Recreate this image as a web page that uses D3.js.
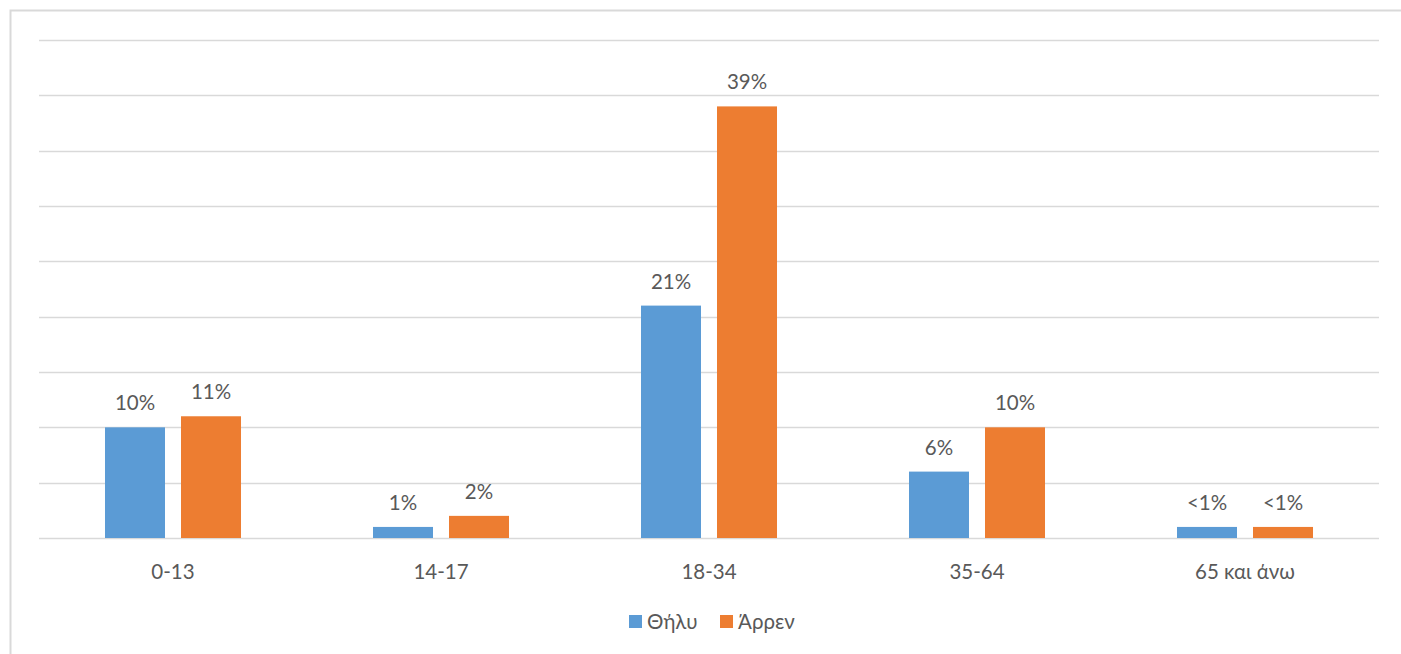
<!DOCTYPE html>
<html lang="el">
    <head>
        <meta charset="utf-8">
        <title>Ηλικία και φύλο</title>
        <script type="text/javascript" src="https://cdn.jsdelivr.net/npm/d3@7"></script>
        <style>
        body { margin: 0; background: #fff; }
        text { font-family: Lato, "Noto Sans", sans-serif; fill: #595959; }
        </style>
    </head>
    <body>
        <script type="text/javascript">
            // age groups and the two series (percent)
            var categories = ["0-13", "14-17", "18-34", "35-64", "65 και άνω"];
            var series = ["Θήλυ", "Άρρεν"];
            var female = [10, 1, 21, 6, 1];
            var male = [11, 2, 39, 10, 1];
            var femaleLabels = ["10%", "1%", "21%", "6%", "<1%"];
            var maleLabels = ["11%", "2%", "39%", "10%", "<1%"];
            var colors = ["#5b9bd5", "#ed7d31"];
            var gridTicks = [0, 5, 10, 15, 20, 25, 30, 35, 40, 45];

            var w = 1401;
            var h = 654;

            var svg = d3.select("body")
                        .append("svg")
                        .attr("width", w)
                        .attr("height", h);

            // chart border
            svg.append("path")
               .attr("d", "M10.5," + h + "V10.5H" + w)
               .attr("fill", "none")
               .attr("stroke", "#d9d9d9")
               .attr("stroke-width", 2);

            var xScale = d3.scaleBand()
                           .domain(categories)
                           .range([39, 1379])
                           .paddingInner(0.4925)
                           .paddingOuter(0.4925 / 2);

            var x1 = d3.scaleBand()
                       .domain(series)
                       .range([0, xScale.bandwidth()])
                       .paddingInner(0.2105);

            var yScale = d3.scaleLinear()
                           .domain([0, 45])
                           .range([538, 40]);

            // gridlines
            svg.append("g")
               .selectAll("line")
               .data(gridTicks)
               .enter()
               .append("line")
               .attr("x1", 39)
               .attr("x2", 1379)
               .attr("y1", function(d) { return Math.round(yScale(d)) + 0.5; })
               .attr("y2", function(d) { return Math.round(yScale(d)) + 0.5; })
               .attr("stroke", "#d9d9d9")
               .attr("stroke-width", 1.5);

            var rows = categories.map(function(c, i) {
                return [
                    { cat: c, s: series[0], v: female[i], label: femaleLabels[i], color: colors[0] },
                    { cat: c, s: series[1], v: male[i], label: maleLabels[i], color: colors[1] }
                ];
            });

            var groups = svg.selectAll("g.group")
                            .data(rows)
                            .enter()
                            .append("g")
                            .attr("class", "group")
                            .attr("transform", function(d) {
                                return "translate(" + xScale(d[0].cat) + ",0)";
                            });

            groups.selectAll("rect")
                  .data(function(d) { return d; })
                  .enter()
                  .append("rect")
                  .attr("x", function(d) { return x1(d.s); })
                  .attr("y", function(d) { return yScale(d.v); })
                  .attr("width", x1.bandwidth())
                  .attr("height", function(d) { return yScale(0) - yScale(d.v); })
                  .attr("fill", function(d) { return d.color; });

            groups.selectAll("text")
                  .data(function(d) { return d; })
                  .enter()
                  .append("text")
                  .text(function(d) { return d.label; })
                  .attr("x", function(d) { return x1(d.s) + x1.bandwidth() / 2; })
                  .attr("y", function(d) { return yScale(d.v) - 17; })
                  .attr("text-anchor", "middle")
                  .attr("font-size", "20.5px");

            // category axis
            var xAxis = d3.axisBottom()
                          .scale(xScale)
                          .tickSize(0)
                          .tickPadding(0);

            var axisG = svg.append("g")
                           .attr("transform", "translate(0,538)")
                           .call(xAxis);
            axisG.select(".domain").remove();
            axisG.selectAll("text")
                 .attr("dy", "41px")
                 .attr("font-size", "20.5px")
                 .attr("font-family", null)
                 .attr("fill", null);

            // legend
            var legendX = [629, 720];
            var legend = svg.selectAll("g.legend")
                            .data(series)
                            .enter()
                            .append("g")
                            .attr("class", "legend")
                            .attr("transform", function(d, i) {
                                return "translate(" + legendX[i] + ",615)";
                            });
            legend.append("rect")
                  .attr("width", 13)
                  .attr("height", 13)
                  .attr("fill", function(d, i) { return colors[i]; });
            legend.append("text")
                  .text(function(d) { return d; })
                  .attr("x", 18)
                  .attr("y", 14)
                  .attr("font-size", "20.5px");
        </script>
    </body>
</html>
